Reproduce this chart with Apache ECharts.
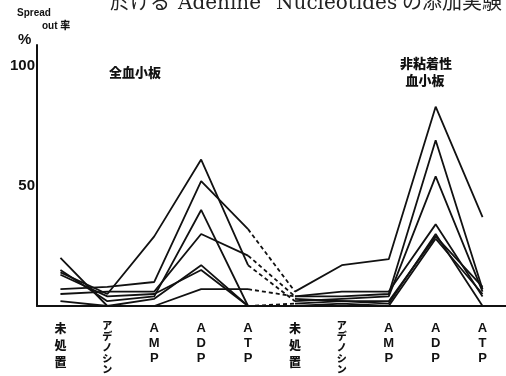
<!DOCTYPE html>
<html><head><meta charset="utf-8">
<script src="https://cdn.jsdelivr.net/npm/echarts@6/dist/echarts.min.js"></script>
<style>html,body{margin:0;padding:0;background:#fff}#c{width:506px;height:376px}</style>
</head><body><div id="c"></div>
<script>
// Categories (x axis)
var categories = ['未処置','アデノシン','AMP','ADP','ATP','未処置','アデノシン','AMP','ADP','ATP'];
// Y tick labels shown
var yTicks = [50, 100];
// 全血小板 (whole platelets) — values for 未処置, アデノシン, AMP, ADP, ATP
var whole1 = [14, 5, 29, 61, 17];
var whole2 = [7, 8, 10, 52, 32];
var whole3 = [15, 2, 4, 40, 0];
var whole4 = [5, 6, 6, 30, 21];
var whole5 = [20, 0, 3, 17, 0];
var whole6 = [13, 4, 5, 15, 0];
var whole7 = [2, 0, 0, 7, 7];
// dashed links: ATP (whole) -> 未処置 (non-adhesive)
var linkFrom = [32, 21, 17, 7, 0];
var linkTo   = [6, 4, 2, 4, 1];
// 非粘着性血小板 (non-adhesive platelets)
var nonAd1 = [6, 17, 19.5, 83, 37];
var nonAd2 = [4, 4, 5, 69, 7];
var nonAd3 = [2, 3, 4, 54, 6];
var nonAd4 = [4, 6, 6, 34, 4];
var nonAd5 = [1, 2, 2, 29, 8];
var nonAd6 = [0, 1, 0, 28, 5];
var nonAd7 = [3, 2, 1, 30, 0];

var wholeList = [whole1, whole2, whole3, whole4, whole5, whole6, whole7];
var nonAdList = [nonAd1, nonAd2, nonAd3, nonAd4, nonAd5, nonAd6, nonAd7];

var series = [];
function pad(arr, offset) {
  var d = [];
  for (var i = 0; i < categories.length; i++) d.push('-');
  for (var j = 0; j < arr.length; j++) d[offset + j] = arr[j];
  return d;
}
var solid = {color: '#111', width: 1.8};
wholeList.forEach(function (a) {
  series.push({type: 'line', data: pad(a, 0), symbol: 'none', lineStyle: solid, silent: true});
});
nonAdList.forEach(function (a) {
  series.push({type: 'line', data: pad(a, 5), symbol: 'none', lineStyle: solid, silent: true});
});
linkFrom.forEach(function (v, i) {
  series.push({type: 'line', data: pad([v, linkTo[i]], 4), symbol: 'none',
    lineStyle: {color: '#111', width: 1.8, type: [4, 3]}, silent: true});
});

var labelFont = '"Liberation Sans","Noto Sans CJK JP",sans-serif';
var catData = categories.map(function (c) {
  var ts = {fontSize: 13, lineHeight: 15};
  if (c === 'アデノシン') ts = {fontSize: 10, lineHeight: 11};
  else if (c === '未処置') ts = {fontSize: 12, lineHeight: 17};
  return {value: c, textStyle: ts};
});

var serif = '20px "DejaVu Serif","Noto Sans CJK JP",serif';
var chart = echarts.init(document.getElementById('c'), null, {renderer: 'canvas'});
chart.setOption({
  animation: false,
  backgroundColor: '#fff',
  grid: {left: 37, top: 45, width: 475, bottom: 69, containLabel: false},
  xAxis: {
    type: 'category', data: catData, boundaryGap: true,
    axisLine: {lineStyle: {color: '#111', width: 2}},
    axisTick: {show: false},
    axisLabel: {
      margin: 15, interval: 0, color: '#111', fontWeight: 900, fontFamily: labelFont,
      verticalAlign: 'top',
      formatter: function (v) { return v.split('').join('\n'); }
    }
  },
  yAxis: {
    type: 'value', min: 0, max: 108.7, interval: 50,
    splitLine: {show: false},
    axisTick: {show: false},
    axisLine: {show: true, lineStyle: {color: '#111', width: 2}},
    axisLabel: {
      margin: 2, color: '#111', fontSize: 15, fontWeight: 900, fontFamily: labelFont,
      formatter: function (v) { return yTicks.indexOf(v) >= 0 ? String(v) : ''; }
    }
  },
  series: series,
  graphic: [
    {type: 'text', left: 110, top: -6, style: {text: '於ける', fill: '#222', font: serif}},
    {type: 'text', left: 178, top: -6, style: {text: 'Adenine', fill: '#222', font: serif}},
    {type: 'text', left: 276, top: -6, style: {text: 'Nucleotides', fill: '#222', font: serif}},
    {type: 'text', left: 402, top: -6, style: {text: 'の添加実験', fill: '#222', font: serif}},
    {type: 'text', left: 17, top: 8, style: {text: 'Spread', fill: '#111',
      font: '900 10px "Liberation Sans",sans-serif'}},
    {type: 'text', left: 42, top: 21, style: {text: 'out 率', fill: '#111',
      font: '900 10px "Liberation Sans","Noto Sans CJK JP",sans-serif'}},
    {type: 'text', left: 18, top: 32, style: {text: '%', fill: '#111',
      font: '900 15px "Liberation Sans",sans-serif'}},
    {type: 'text', x: 135, y: 72, style: {text: '全血小板', fill: '#111', align: 'center', verticalAlign: 'middle',
      font: '900 13px "Noto Sans CJK JP",sans-serif'}},
    {type: 'text', x: 426, y: 63, style: {text: '非粘着性', fill: '#111', align: 'center', verticalAlign: 'middle',
      font: '900 13px "Noto Sans CJK JP",sans-serif'}},
    {type: 'text', x: 425, y: 80, style: {text: '血小板', fill: '#111', align: 'center', verticalAlign: 'middle',
      font: '900 13px "Noto Sans CJK JP",sans-serif'}}
  ]
});
</script></body></html>
